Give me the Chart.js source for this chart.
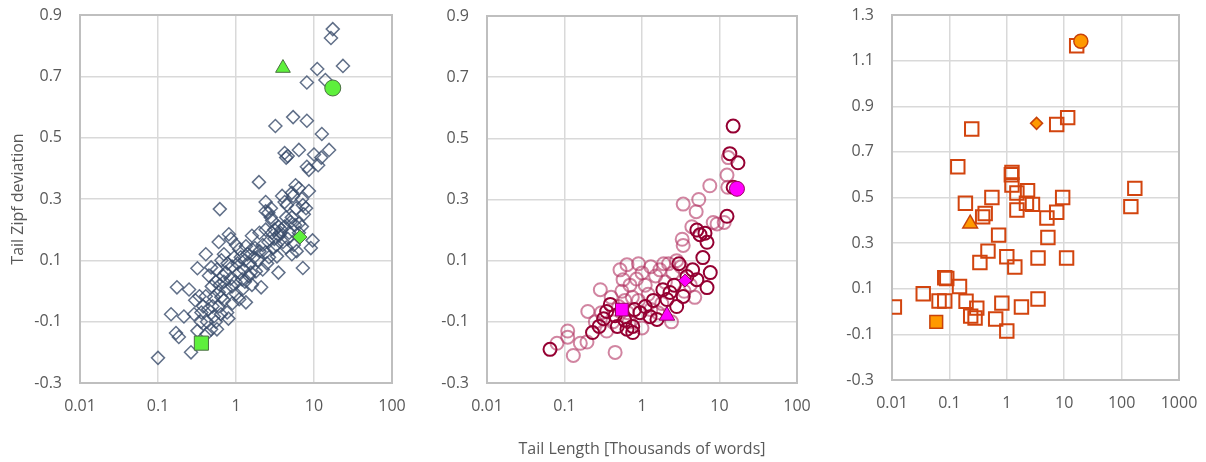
<!DOCTYPE html>
<html>
<head>
<meta charset="utf-8">
<script src="https://cdn.jsdelivr.net/npm/chart.js@4"></script>
<style>
body { margin: 0; background: #fff; width: 1206px; height: 462px; overflow: hidden; position: relative; }
.panel { position: absolute; top: 0; height: 462px; }
</style>
</head>
<body>
<div class="panel" style="left:0;width:410px"><canvas id="c1"></canvas></div>
<div class="panel" style="left:405px;width:410px"><canvas id="c2"></canvas></div>
<div class="panel" style="left:815px;width:391px"><canvas id="c3"></canvas></div>
<script>
// ===== DATA =====
const xTicksA = [0.01, 0.1, 1, 10, 100];
const xTicksB = [0.01, 0.1, 1, 10, 100, 1000];
const yRangeA = [-0.3, 0.9];
const yRangeB = [-0.3, 1.3];

// left panel: open diamonds
const diamonds1 = [
    [17.4,0.854],[16.5,0.825],[23.5,0.734],[11,0.724],[8.1,0.68],[14,0.688],
    [5.4,0.567],[3.2,0.538],[8.1,0.555],[12.6,0.512],
    [4.2,0.45],[4.4,0.435],[4.6,0.44],[6.4,0.46],[15.6,0.46],[10,0.445],[12.4,0.435],
    [8.1,0.405],[8.6,0.395],[11.3,0.41],[1.97,0.355],[5.8,0.345],[6.4,0.335],[8.6,0.326],
    [5.4,0.31],[4.2,0.29],[4.5,0.28],[2.4,0.29],[0.62,0.267],[7.2,0.28],[2.6,0.255],[2.8,0.24],
    [7.4,0.25],[5,0.225],[5.2,0.24],[5.7,0.215],[3.7,0.19],[3.1,0.2],[6.4,0.19],[7,0.21],
    [9.6,0.165],[9.1,0.14],[7.2,0.075],[3.5,0.06],[0.1,-0.218],
    [2.4,0.26],[2.8,0.27],[3.9,0.31],[5.2,0.32],[7,0.3],[5.9,0.27],[7.9,0.27],[2.9,0.23],[3.5,0.21],[4.4,0.24],[6.4,0.22],
    [0.81,0.185],[0.86,0.17],[0.6,0.16],[1.6,0.18],[2.0,0.19],[2.4,0.2],[2.9,0.19],[3.55,0.18],
    [0.41,0.12],[0.32,0.074],[1.1,0.136],[1.34,0.146],[1.6,0.136],[2.0,0.13],[2.4,0.126],[2.65,0.11],[3.35,0.113],[4.4,0.142],[5.2,0.12],
    [0.48,0.077],[0.57,0.07],[0.74,0.06],[0.89,0.08],[1.1,0.06],[1.2,0.038],[1.47,0.048],[1.8,0.064],[2.1,0.012],[1.34,-0.037],
    [0.175,0.012],[0.25,0.005],[0.34,-0.017],[0.41,-0.017],[0.49,0.015],[0.6,-0.004],[0.74,0.005],[0.89,0.015],[1.0,-0.01],[1.2,0.005],[1.1,-0.027],
    [0.147,-0.076],[0.215,-0.083],[0.29,-0.076],[0.355,-0.1],[0.425,-0.1],[0.52,-0.083],[0.64,-0.076],[0.77,-0.07],[0.57,-0.125],[0.48,-0.125],
    [0.17,-0.137],[0.185,-0.15],[0.265,-0.2],
    [0.45,0.05],[0.55,0.03],[0.65,0.1],[0.7,0.03],[0.95,0.11],[1.05,0.09],[1.3,0.1],[1.5,0.09],[1.7,0.11],[0.9,-0.04],
    [0.6,-0.05],[0.5,-0.05],[0.38,-0.05],[0.7,-0.03],[1.6,0.02],[2.2,0.07],[2.5,0.09],[3.0,0.14],[3.3,0.15],[4.0,0.16],
    [4.6,0.17],[5.5,0.15],[6.0,0.13],[0.3,-0.03],[0.42,-0.14],[0.32,-0.13],[0.8,-0.09],
    [0.36,-0.07],[0.44,-0.06],[0.52,-0.02],[0.62,0.02],[0.68,0.05],[0.78,0.09],[0.85,0.04],[0.98,0.03],[1.15,0.11],[1.25,0.07],
    [1.4,0.12],[1.55,0.06],[1.9,0.1],[2.2,0.15],[2.6,0.16],[3.1,0.17],[3.8,0.2],[4.2,0.21],[4.8,0.19],[1.0,0.15],
    [0.7,0.12],[0.55,-0.1],[0.65,-0.02],[1.3,0.03],[1.75,0.14]
];
const marked1 = [[4,0.727],[17.4,0.662],[6.6,0.176],[0.36,-0.17]];

// middle panel: open circles, two shades
const circlesDark2 = [
    [0.065,-0.19],[0.23,-0.135],[0.28,-0.115],[0.39,-0.043],[0.35,-0.066],[0.48,-0.115],[0.64,-0.124],[0.76,-0.135],
    [0.76,-0.115],[0.94,-0.07],[1.27,-0.083],[1.56,-0.092],[1.86,0.005],[2.3,-0.004],[2.1,-0.027],[2.8,-0.05],
    [3.4,-0.017],[3.8,0.048],[5.1,0.038],[6.9,0.012],[6.1,0.11],[7.6,0.061],[6.9,0.16],[5.6,0.185],[5.1,0.2],
    [6.5,0.19],[12.5,0.245],[15,0.34],[15,0.54],[13.6,0.45],[17.3,0.42],[0.45,-0.08],[0.6,-0.095],[0.8,-0.06],
    [1.1,-0.05],[1.4,-0.03],[2.6,0.02],[4.5,0.07],[3,0.09],[0.32,-0.09]
];
const circlesLight2 = [
    [0.08,-0.17],[0.11,-0.13],[0.11,-0.15],[0.13,-0.21],[0.16,-0.17],[0.195,-0.166],[0.2,-0.066],[0.29,0.005],
    [0.45,-0.2],[0.52,0.07],[0.64,0.087],[0.57,0.038],[0.25,-0.1],[0.3,-0.07],[0.35,-0.13],[0.4,-0.02],[0.42,-0.1],
    [0.5,-0.05],[0.55,0.0],[0.6,-0.03],[0.65,-0.07],[0.7,0.02],[0.75,-0.02],[0.85,0.04],[0.9,-0.03],[1.0,0.06],
    [1.1,0.02],[1.2,-0.01],[1.3,0.08],[1.5,0.05],[1.7,0.07],[1.9,0.09],[2.2,0.09],[2.5,0.06],[2.8,0.1],[3.2,0.08],
    [1.0,-0.12],[1.3,-0.06],[1.8,-0.04],[2.4,-0.1],[3.5,0.0],[4.2,0.02],[4.8,-0.02],[3.3,0.17],[3.4,0.15],[4.4,0.211],
    [8.3,0.225],[9.3,0.22],[11.5,0.225],[5,0.26],[3.4,0.285],[5.4,0.3],[7.5,0.345],[12.5,0.38],[13,0.437],[12.8,0.34],
    [0.9,0.09],[0.68,-0.1],[1.6,-0.07],[2.0,0.03]
];
const marked2 = [[16.8,0.335],[3.6,0.035],[0.55,-0.06],[2.1,-0.08]];

// right panel: open squares
const squares3 = [
    [16.5,1.165],[7.4,0.82],[11.5,0.85],[0.245,0.80],[0.14,0.635],[1.23,0.61],[1.2,0.60],[1.23,0.555],[1.5,0.52],
    [2.3,0.53],[0.55,0.50],[0.19,0.475],[9.4,0.50],[170,0.54],[145,0.46],[0.42,0.43],[0.38,0.415],[1.5,0.445],
    [2.2,0.475],[2.8,0.47],[5,0.41],[7.4,0.435],
    [0.72,0.335],[5.2,0.325],[0.47,0.265],[0.34,0.215],[1.0,0.24],[1.38,0.195],[3.5,0.235],[11,0.235],
    [0.083,0.148],[0.09,0.145],[0.15,0.11],[0.035,0.078],[0.066,0.046],[0.083,0.046],[0.195,0.045],[0.3,0.015],
    [0.235,-0.02],[0.28,-0.028],[0.82,0.037],[1.8,0.02],[3.5,0.055],[0.64,-0.033],[1.0,-0.085],[0.011,0.02]
];
const marked3 = [[19.5,1.185],[3.3,0.825],[0.23,0.385],[0.059,-0.045]];

const xTitle = 'Tail Length [Thousands of words]';
const yTitle = 'Tail Zipf deviation';

// ===== CHARTS =====
Chart.defaults.font.family = "'Open Sans', sans-serif";
Chart.defaults.font.size = 16;
Chart.defaults.color = '#595959';

const plotBorder = {
    id: 'plotBorder',
    beforeDatasetsDraw(chart) {
        const a = chart.chartArea;
        const ctx = chart.ctx;
        ctx.save();
        ctx.strokeStyle = '#bfbfbf';
        ctx.lineWidth = 2;
        ctx.strokeRect(a.left, a.top, a.right - a.left, a.bottom - a.top);
        ctx.restore();
    }
};

const pts = arr => arr.map(p => ({ x: p[0], y: p[1] }));

function scatter(id, datasets, xTicks, yRange, yWidth, xHeight, padding, showX, showY) {
    new Chart(document.getElementById(id), {
        type: 'scatter',
        data: { datasets: datasets },
        options: {
            responsive: true,
            maintainAspectRatio: false,
            animation: false,
            layout: { padding: padding },
            plugins: { legend: { display: false }, tooltip: { enabled: false } },
            scales: {
                x: {
                    type: 'logarithmic',
                    min: xTicks[0],
                    max: xTicks[xTicks.length - 1],
                    afterBuildTicks: s => { s.ticks = xTicks.map(v => ({ value: v })); },
                    afterFit: s => { s.height = xHeight; s.paddingLeft = 0; s.paddingRight = 0; },
                    grid: { color: '#d9d9d9', lineWidth: 1.5, drawTicks: false },
                    border: { display: false },
                    ticks: { padding: 14, autoSkip: false, maxRotation: 0, callback: v => String(v) },
                    title: { display: showX, text: xTitle, padding: { top: 0, bottom: 3 } }
                },
                y: {
                    min: yRange[0],
                    max: yRange[1],
                    afterFit: s => { s.width = yWidth; s.paddingTop = 0; s.paddingBottom = 0; },
                    grid: { color: '#d9d9d9', lineWidth: 1.5, drawTicks: false },
                    border: { display: false },
                    ticks: { stepSize: 0.2, padding: 18, callback: v => v.toFixed(1) },
                    title: { display: showY, text: yTitle, padding: { top: 9, bottom: 0 } }
                }
            }
        },
        plugins: [plotBorder]
    });
}

scatter('c1', [
    {
        data: pts(marked1),
        pointStyle: ['triangle', 'circle', 'rectRot', 'rect'],
        pointRadius: [8.5, 8, 7, 10],
        backgroundColor: '#5ef03c',
        borderColor: '#4a6e42',
        borderWidth: 1
    },
    {
        data: pts(diamonds1),
        pointStyle: 'rectRot',
        pointRadius: 6.5,
        backgroundColor: 'rgba(0,0,0,0)',
        borderColor: 'rgba(58,76,108,0.8)',
        borderWidth: 1.5
    }
], xTicksA, yRangeA, 80, 79, { left: 0, right: 18, top: 15, bottom: 0 }, false, true);

scatter('c2', [
    {
        data: pts(marked2),
        pointStyle: ['circle', 'rectRot', 'rect', 'triangle'],
        pointRadius: [7.5, 6.5, 9, 9],
        backgroundColor: '#ff00ff',
        borderColor: '#99005c',
        borderWidth: 1
    },
    {
        data: pts(circlesDark2),
        pointStyle: 'circle',
        pointRadius: 6.5,
        backgroundColor: 'rgba(0,0,0,0)',
        borderColor: '#950032',
        borderWidth: 2
    },
    {
        data: pts(circlesLight2),
        pointStyle: 'circle',
        pointRadius: 6.5,
        backgroundColor: 'rgba(0,0,0,0)',
        borderColor: 'rgba(178,52,98,0.6)',
        borderWidth: 2
    }
], xTicksA, yRangeA, 82, 79, { left: 0, right: 18, top: 16, bottom: 0 }, true, false);

scatter('c3', [
    {
        data: pts(marked3),
        pointStyle: ['circle', 'rectRot', 'triangle', 'rect'],
        pointRadius: [7, 6, 8.5, 9],
        backgroundColor: '#ff9900',
        borderColor: '#c8420a',
        borderWidth: 1.5
    },
    {
        data: pts(squares3),
        pointStyle: 'rect',
        pointRadius: 9.5,
        backgroundColor: 'rgba(0,0,0,0)',
        borderColor: '#d2440e',
        borderWidth: 2
    }
], xTicksB, yRangeB, 77, 82, { left: 0, right: 27, top: 15, bottom: 0 }, false, false);
</script>
</body>
</html>
